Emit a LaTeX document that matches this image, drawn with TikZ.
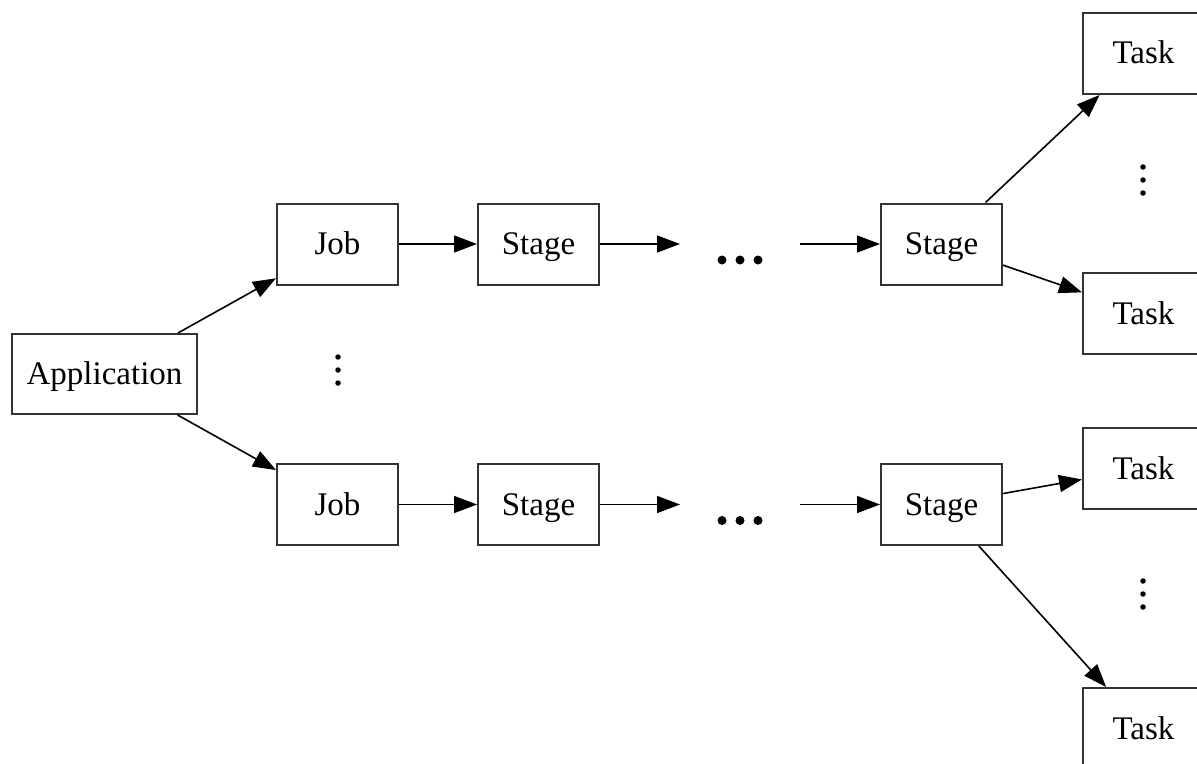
\documentclass[tikz,border=0pt]{standalone}
\usepackage{fontspec}
\setmainfont{Liberation Serif}
\usetikzlibrary{arrows.meta}
\tikzset{
  box/.style={draw=black!80, line width=2bp, fill=white, minimum width=121bp,
    minimum height=81bp, inner sep=0pt, text height=22bp, text depth=1bp,
    font=\fontsize{33bp}{40bp}\selectfont},
  link/.style={line width=1.6bp, -{Triangle[length=23bp,width=17bp]}},
  dotmark/.style={circle, fill=black, inner sep=0pt},
}
\begin{document}
\begin{tikzpicture}[x=1bp, y=-1bp]
  \useasboundingbox (0,0) rectangle (1197,764);
  \clip (0,0) rectangle (1197,764);

  % application and its jobs
  \node[box, minimum width=185bp, minimum height=80bp] (app) at (104.5,374) {Application};
  \node[box] (job1) at (337.5,244) {Job};
  \node[box] (job2) at (337.5,504.5) {Job};

  % stage chains
  \node[box] (st1) at (538.5,244) {Stage};
  \node[box] (st2) at (538.5,504.5) {Stage};
  \node[box] (last1) at (941.5,244) {Stage};
  \node[box] (last2) at (941.5,504.5) {Stage};

  % tasks
  \node[box] (t1) at (1143.5,53.5) {Task};
  \node[box] (t2) at (1143.5,313.5) {Task};
  \node[box] (t3) at (1143.5,468.5) {Task};
  \node[box] (t4) at (1143.5,728.5) {Task};

  % open ends around the horizontal ellipses
  \coordinate (gapin1) at (680,244);
  \coordinate (gapout1) at (800,244);
  \coordinate (gapin2) at (680,504.5);
  \coordinate (gapout2) at (800,504.5);

  % horizontal ellipses
  \foreach \y/\n in {260/a, 520.5/b}{
    \foreach \x/\k in {722/1, 740/2, 758/3}{
      \node[dotmark, minimum size=9bp] (hd\n\k) at (\x,\y) {};
    }
  }
  % vertical ellipses
  \foreach \x/\y/\n in {338/370/j, 1143/180/u, 1143/594/l}{
    \foreach \d/\k in {-13/1, 0/2, 13/3}{
      \node[dotmark, minimum size=5.5bp] (vd\n\k) at (\x,\y+\d) {};
    }
  }

  % connectors
  \draw[link] (app) -- (job1);
  \draw[link] (app) -- (job2);
  \draw[link] (job1) -- (st1);
  \draw[link] (job2) -- (st2);
  \draw[link] (st1) -- (gapin1);
  \draw[link] (st2) -- (gapin2);
  \draw[link] (gapout1) -- (last1);
  \draw[link] (gapout2) -- (last2);
  \draw[link] (last1) -- (t1);
  \draw[link] (last1) -- (t2);
  \draw[link] (last2) -- (t3);
  \draw[link] (last2) -- (t4);
\end{tikzpicture}
\end{document}
